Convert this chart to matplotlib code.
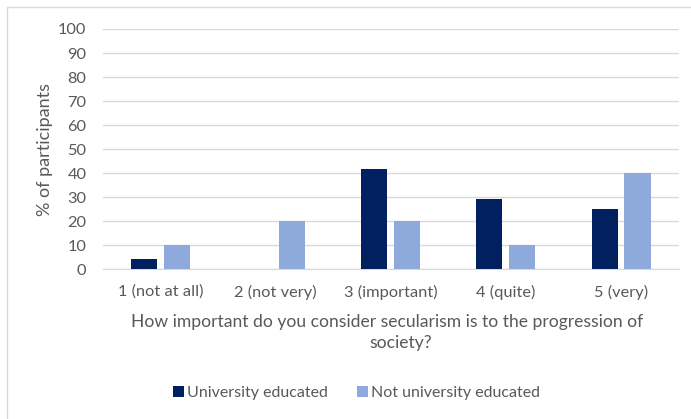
import matplotlib.pyplot as plt
import numpy as np
from matplotlib.patches import Rectangle

categories = ["1 (not at all)", "2 (not very)", "3 (important)", "4 (quite)", "5 (very)"]
university = [4.2, 0, 41.7, 29.2, 25.0]
not_university = [10, 20, 20, 10, 40]
series_names = ["University educated", "Not university educated"]
yticks = [0, 10, 20, 30, 40, 50, 60, 70, 80, 90, 100]
x_title = ["How important do you consider secularism is to the progression of", "society?"]

dark = "#002060"
light = "#8EA9DB"
text_col = "#595959"
grid_col = "#D9D9D9"

plt.rcParams['font.family'] = ['Lato', 'DejaVu Sans']

W, H = 691, 419
fig = plt.figure(figsize=(W / 100, H / 100), dpi=100)
left, right, top, bottom = 103, 678.6, 29, 269.3
ax = fig.add_axes([left / W, 1 - bottom / H, (right - left) / W, (bottom - top) / H])

x = np.arange(len(categories))
w = 0.226
off = 0.143
ax.bar(x - off, university, w, color=dark, label=series_names[0], zorder=3)
ax.bar(x + off, not_university, w, color=light, label=series_names[1], zorder=3)

ax.set_xlim(-0.5, len(categories) - 0.5)
ax.set_ylim(0, 100)
ax.set_yticks(yticks)
ax.set_yticklabels([str(v) for v in yticks])
ax.set_xticks(x)
ax.set_xticklabels(categories)
ax.yaxis.grid(True, color=grid_col, linewidth=1, zorder=0)
ax.set_axisbelow(True)
for s in ["left", "right", "top"]:
    ax.spines[s].set_visible(False)
ax.spines["bottom"].set_color(grid_col)
ax.tick_params(axis="both", length=0, colors=text_col, labelsize=11.8)
ax.tick_params(axis="x", pad=11)
ax.tick_params(axis="y", pad=12)

ax.set_ylabel("% of participants", color=text_col, fontsize=13)
ax.yaxis.set_label_coords((53 - left) / (right - left), 0.5)

# two-line category axis title
fig.text(387 / W, 1 - 322 / H, x_title[0], color=text_col, fontsize=12.6,
         ha="center", va="center")
fig.text(401 / W, 1 - 343 / H, x_title[1], color=text_col, fontsize=12.6,
         ha="center", va="center")

leg = fig.legend(loc="center", bbox_to_anchor=(356.5 / W, 1 - 393 / H), ncol=2,
                 frameon=False, fontsize=11.5, handlelength=0.7, handleheight=0.7,
                 handletextpad=0.2, columnspacing=1.8)
for t in leg.get_texts():
    t.set_color(text_col)

# outer chart-area border (top and left edges visible)
fig.patches.append(Rectangle((7 / W, -0.05), 1.0, 1 - 7 / H + 0.05,
                             transform=fig.transFigure, fill=False,
                             edgecolor=grid_col, linewidth=1))

fig.savefig("out.png", dpi=100)
